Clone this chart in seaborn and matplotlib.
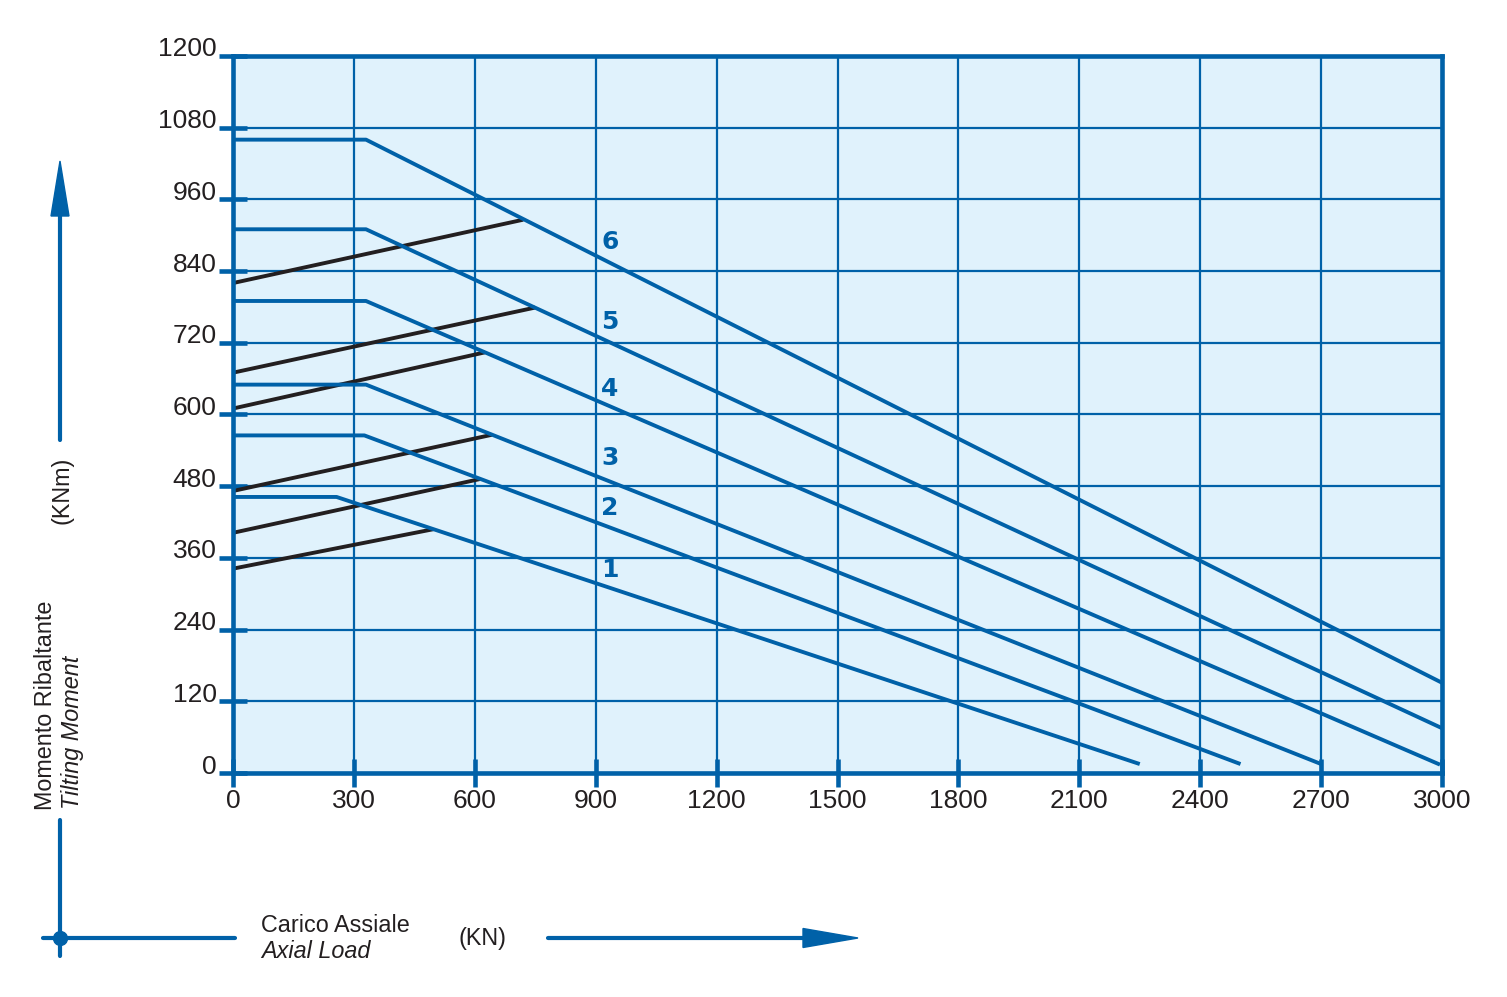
import matplotlib
matplotlib.use("Agg")
import matplotlib.pyplot as plt
import matplotlib.transforms as mtransforms
from matplotlib.lines import Line2D
from matplotlib.patches import Polygon
import seaborn as sns
import pandas as pd

# ---------------- data ----------------
x_ticks = [0, 300, 600, 900, 1200, 1500, 1800, 2100, 2400, 2700, 3000]
y_ticks = [0, 120, 240, 360, 480, 600, 720, 840, 960, 1080, 1200]

curve_names = ["1", "2", "3", "4", "5", "6"]
# blue limit curves: flat part then linear decrease
blue_x = [[0, 257, 2250], [0, 326, 2500], [0, 330, 2700],
          [0, 330, 2995], [0, 330, 3000], [0, 330, 3000]]
blue_y = [[462, 462, 15], [565, 565, 15], [650, 650, 15],
          [790, 790, 14], [910, 910, 75], [1060, 1060, 151]]
# black lines
black_x = [[0, 497], [0, 613], [0, 642], [0, 625], [0, 750], [0, 720]]
black_y = [[342, 408], [402, 492], [472, 566], [610, 704], [670, 779], [820, 926]]
# curve number labels
label_x = [935, 935, 935, 935, 935, 935]
label_y = [340, 443, 527, 643, 755, 889]

# ---------------- style ----------------
BLUE = "#0061A8"
BG = "#E0F2FC"
TXT = "#231F20"
sns.set_theme(style="white")
plt.rcParams["font.family"] = ["Liberation Sans", "DejaVu Sans"]

W, H = 1507, 997
fig = plt.figure(figsize=(W / 100, H / 100), dpi=100)
fig.patch.set_facecolor("white")
ax = fig.add_axes([233 / W, 1 - 773 / H, (1442 - 233) / W, (773 - 56) / H])
ax.set_facecolor(BG)

rows = []
for name, xs, ys in zip(curve_names, blue_x, blue_y):
    for xv, yv in zip(xs, ys):
        rows.append({"curve": name, "x": xv, "y": yv})
df_blue = pd.DataFrame(rows)
rows = []
for name, xs, ys in zip(curve_names, black_x, black_y):
    for xv, yv in zip(xs, ys):
        rows.append({"curve": name, "x": xv, "y": yv})
df_black = pd.DataFrame(rows)

sns.lineplot(data=df_blue, x="x", y="y", units="curve", estimator=None, sort=False,
             color=BLUE, lw=2.8, ax=ax, zorder=4, solid_capstyle="butt")
sns.lineplot(data=df_black, x="x", y="y", units="curve", estimator=None, sort=False,
             color=TXT, lw=2.8, ax=ax, zorder=3, solid_capstyle="butt")

for name, lx, ly in zip(curve_names, label_x, label_y):
    ax.text(lx, ly, name, color=BLUE, fontsize=18, fontweight="heavy",
            family=["DejaVu Sans"], ha="center", va="center", zorder=5)

ax.set_xlim(0, 3000)
ax.set_ylim(0, 1200)
ax.set_xticks(x_ticks)
ax.set_yticks(y_ticks)
ax.set_xticklabels([str(v) for v in x_ticks])
ax.set_yticklabels([str(v) for v in y_ticks])
ax.set_xlabel("")
ax.set_ylabel("")

ax.grid(True, color=BLUE, lw=1.6, zorder=1)
ax.set_axisbelow(True)
for s in ax.spines.values():
    s.set_color(BLUE)
    s.set_linewidth(3.3)
    s.set_zorder(6)

ax.tick_params(axis="both", direction="inout", length=19.5, width=3.3,
               color=BLUE, labelcolor=TXT, labelsize=19, pad=2)
ax.tick_params(axis="x", bottom=True, top=False)
ax.tick_params(axis="y", left=True, right=False)

# shift y tick labels upward like the reference
offset = mtransforms.ScaledTranslation(0, 0.09, fig.dpi_scale_trans)
for lab in ax.get_yticklabels():
    lab.set_transform(lab.get_transform() + offset)


# ---------------- decorations (figure pixel coords) ----------------
def fx(px):
    return px / W


def fy(py):
    return 1 - py / H


# vertical arrow (moment)
fig.add_artist(Line2D([fx(60), fx(60)], [fy(440), fy(214)], color=BLUE, lw=3.0))
fig.add_artist(Polygon([[fx(51), fy(216)], [fx(69), fy(216)], [fx(60), fy(161)]],
                       closed=True, color=BLUE, transform=fig.transFigure))
# axis cross lines bottom-left
fig.add_artist(Line2D([fx(60), fx(60)], [fy(820), fy(956)], color=BLUE, lw=3.0))
fig.add_artist(Line2D([fx(43), fx(235)], [fy(938), fy(938)], color=BLUE, lw=3.0))
fig.add_artist(Line2D([fx(60)], [fy(938)], marker="o", markersize=10,
                      color=BLUE, lw=0))
# horizontal arrow (load)
fig.add_artist(Line2D([fx(548), fx(805)], [fy(938), fy(938)], color=BLUE, lw=3.0))
fig.add_artist(Polygon([[fx(803), fy(928.5)], [fx(803), fy(947.5)], [fx(858), fy(938)]],
                       closed=True, color=BLUE, transform=fig.transFigure))

# texts
fig.text(fx(46), fy(810), "Momento Ribaltante", rotation=90, ha="center", va="bottom",
         fontsize=16.8, color=TXT)
fig.text(fx(73), fy(809), "Tilting Moment", rotation=90, ha="center", va="bottom",
         fontsize=16.8, color=TXT, style="italic")
fig.text(fx(62), fy(490), "(KNm)", rotation=90, ha="center", va="center",
         fontsize=16.8, color=TXT)
fig.text(fx(261), fy(932), "Carico Assiale", ha="left", va="baseline",
         fontsize=16.8, color=TXT)
fig.text(fx(261), fy(958), "Axial Load", ha="left", va="baseline",
         fontsize=16.8, color=TXT, style="italic")
fig.text(fx(458), fy(938), "(KN)", ha="left", va="center",
         fontsize=16.8, color=TXT)

fig.savefig("out.png", dpi=100, facecolor="white")
